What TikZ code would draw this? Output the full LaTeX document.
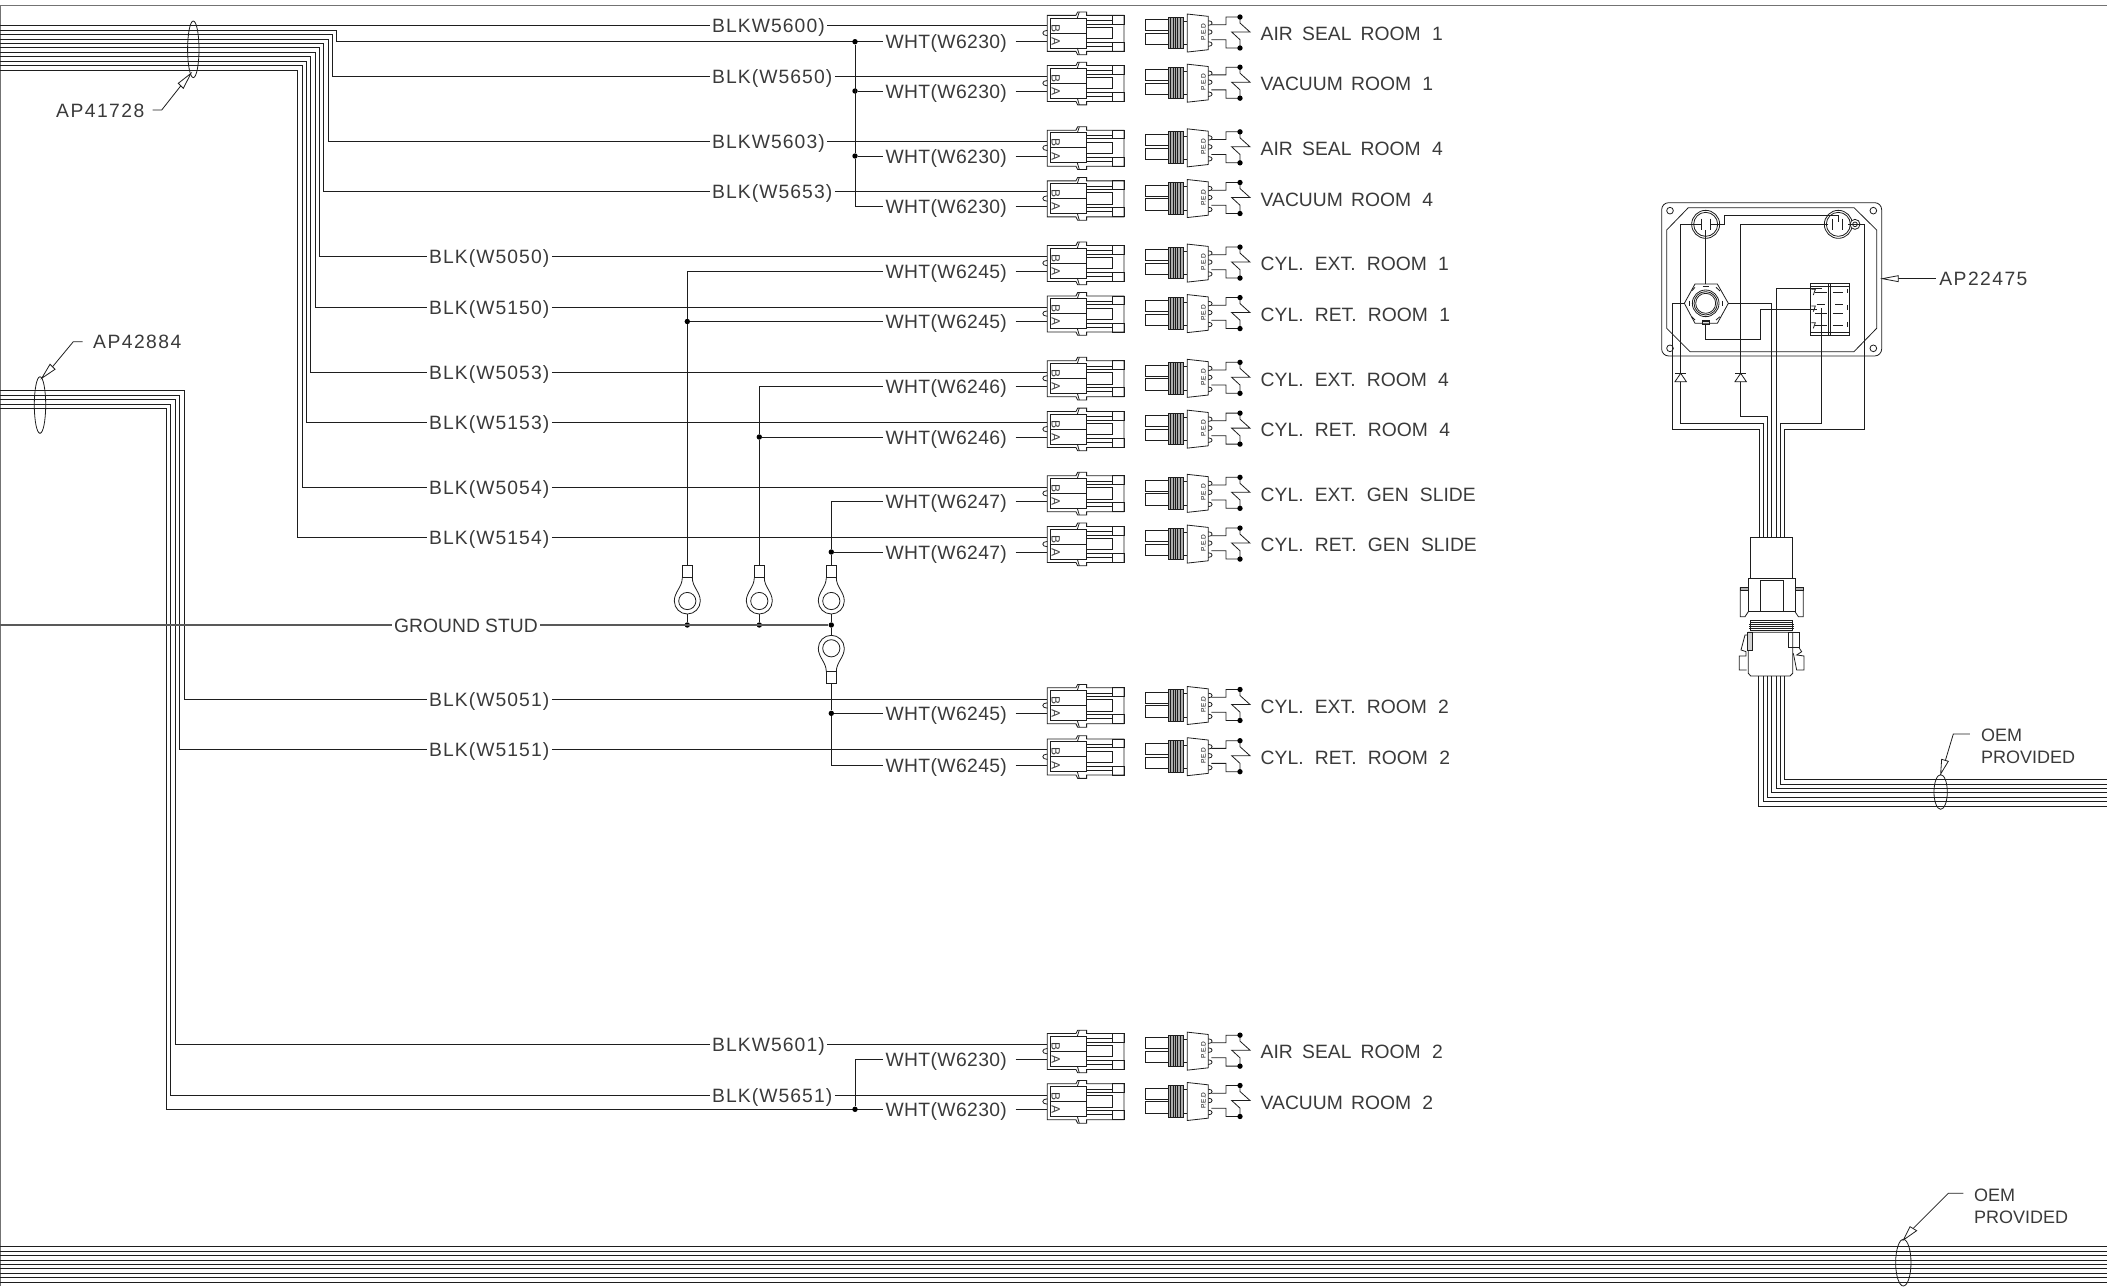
\documentclass[tikz,border=0pt]{standalone}
\usepackage{fontspec}
\usetikzlibrary{calc}
\newfontfamily\lblfont[WordSpace=2.1]{Liberation Sans}
\newfontfamily\lblwht[WordSpace=2.1,LetterSpace=2]{Liberation Sans}
\newfontfamily\lblblk[WordSpace=2.1,LetterSpace=5.5]{Liberation Sans}
\newfontfamily\lbltag[WordSpace=2.1,LetterSpace=7.5]{Liberation Sans}
\definecolor{ink}{HTML}{1E1E1E}
\definecolor{txt}{HTML}{3A3A3A}
\tikzset{
  wire/.style={draw=ink,line width=1pt,line join=miter},
  thin line/.style={draw=ink,line width=0.8pt},
  lab/.style={font=\lblfont\fontsize{19.3}{22}\selectfont,text=txt,inner xsep=2.5pt,inner ysep=0pt,text height=14pt,text depth=0pt},
  labwht/.style={lab,font=\lblwht\fontsize{19.3}{22}\selectfont},
  labblk/.style={lab,font=\lblblk\fontsize{19.3}{22}\selectfont},
  labtag/.style={lab,font=\lbltag\fontsize{19.3}{22}\selectfont},
  laboem/.style={lab,font=\lblfont\fontsize{18}{22}\selectfont},
  mini/.style={font=\lblfont\fontsize{12}{12}\selectfont,text=txt,inner sep=0pt},
  micro/.style={font=\lblfont\fontsize{6.5}{7}\selectfont,text=black,inner sep=0pt},
  dotn/.style={circle,fill=black,inner sep=0pt,minimum size=5.4pt},
  mconn/.pic={
    \coordinate (-w) at (0,0);
    \begin{scope}[x=.3333pt,y=-.3333pt,shift={(-22,-77)},thin line]
      \draw (22,22)--(108,22)--(113,12)--(140,12)--(140,22)--(252,22)--(252,130)--(140,130)--(140,140)--(113,140)--(108,130)--(22,130)--cycle;
      \draw (30,30) rectangle (140,120);
      \draw (30,75)--(140,75);
      \draw (118,12)--(112,30) (118,140)--(112,120);
      \draw (218,22) rectangle (252,48);
      \draw (218,103) rectangle (252,130);
      \draw (140,38)--(218,38) (140,48)--(218,48) (140,115)--(218,115) (140,103)--(218,103);
      \draw (140,58) rectangle (218,92);
      \draw (22,67) .. controls (4,67) and (4,83) .. (22,83);
      \node[mini,rotate=-90] (-B) at (47,60) {B};
      \node[mini,rotate=-90] (-A) at (47,100) {A};
    \end{scope}
  },
  sensor/.pic={
    \begin{scope}[x=.3333pt,y=-.3333pt,shift={(-15,-77)},thin line]
      \draw (15,35) rectangle (85,68);
      \draw (15,76) rectangle (85,110);
      \draw[fill=gray!65] (85,27) rectangle (130,122);
      \draw (85,27) rectangle (130,122);
      \draw[line width=.7pt] (92,27)--(92,122) (99,27)--(99,122) (106,27)--(106,122) (113,27)--(113,122) (120,27)--(120,122);
      \draw (130,40)--(142,40) (130,110)--(142,110);
      \draw (142,18)--(205,25)--(205,125)--(142,132)--cycle;
      \draw (205,38) .. controls (220,38) and (220,52) .. (205,52);
      \draw (205,65) .. controls (220,65) and (220,79) .. (205,79);
      \draw (205,101) .. controls (220,101) and (220,115) .. (205,115);
      \draw (214,50)--(258,50)--(258,27)--(300,27)--(300,45)--(330,72)--(275,72)--(300,95)--(300,120)--(258,120)--(258,95)--(214,95);
      \fill[black] (300,27) circle[radius=8] (300,120) circle[radius=8];
      \node[micro,rotate=90] (-ped) at (190,72) {P.E.D};
    \end{scope}
  },
  lug/.pic={
    \draw[thin line,fill=white] (-5,-23.3) .. controls (-5,-14) and (-13,-9) .. (-13,0)
        arc[start angle=180,end angle=0,radius=13]
        .. controls (13,-9) and (5,-14) .. (5,-23.3);
    \draw[thin line] (-5,-35.3) rectangle (5,-23.3);
    \draw[thin line] (0,0) circle[radius=8.6];
    \coordinate (-top) at (0,-35.3);
    \coordinate (-bot) at (0,13);
  }
}
\newcommand{\Row}[7]{% n, top, low, blk, blkx, wht, right label
  \pgfmathsetmacro{\rmid}{(#2+#3)/2}
  \node[labblk,anchor=west] (b#1) at (#5,#2) {#4};
  \node[labwht,anchor=west] (w#1) at (882.8,#3) {WHT(#6)};
  \pic (c#1) at (1047.3,\rmid) {mconn};
  \pic (s#1) at (1145,\rmid) {sensor};
  \node[lab,anchor=west] (t#1) at (1258,\rmid) {#7};
  \draw[wire] (b#1.east) -- (c#1-w |- b#1.east);
  \draw[wire] ($(w#1.east)+(6,0)$) -- (c#1-w |- w#1.east);
}
\newcommand{\Feed}[4]{% name, y start, column x, target
  \coordinate (#1) at (0,#2);
  \draw[wire] (#1) -- (#1 -| #3,0) |- (#4);
}
\begin{document}
\begin{tikzpicture}[x=1pt,y=-1pt]
\useasboundingbox (0,0) rectangle (2107,1286);
\clip (0,0) rectangle (2107,1286);
% sheet frame
\coordinate (fa) at (0.6,1286);
\coordinate (fb) at (0.6,5.3);
\coordinate (fc) at (2107,5.3);
\draw[wire,draw=gray!90!black] (fa) -- (fb) -- (fc);

% rows
\Row{1}{25.7}{41.7}{BLKW5600)}{709.5}{W6230}{AIR\kern-2pt{} SEAL\kern-2pt{} ROOM 1}
\Row{2}{76.7}{91}{BLK(W5650)}{709.5}{W6230}{VACUUM\kern-3pt{} ROOM 1}
\Row{3}{141}{156}{BLKW5603)}{709.5}{W6230}{AIR\kern-2pt{} SEAL\kern-2pt{} ROOM 4}
\Row{4}{191.7}{206.7}{BLK(W5653)}{709.5}{W6230}{VACUUM\kern-3pt{} ROOM 4}
\Row{5}{256.5}{271}{BLK(W5050)}{426.5}{W6245}{CYL. EXT. ROOM 1}
\Row{6}{307}{321.5}{BLK(W5150)}{426.5}{W6245}{CYL. RET. ROOM 1}
\Row{7}{372}{386}{BLK(W5053)}{426.5}{W6246}{CYL. EXT. ROOM 4}
\Row{8}{422.6}{437}{BLK(W5153)}{426.5}{W6246}{CYL. RET. ROOM 4}
\Row{9}{487}{501}{BLK(W5054)}{426.5}{W6247}{CYL. EXT. GEN SLIDE}
\Row{10}{537.5}{552}{BLK(W5154)}{426.5}{W6247}{CYL. RET. GEN SLIDE}
\Row{11}{699}{713.3}{BLK(W5051)}{426.5}{W6245}{CYL. EXT. ROOM 2}
\Row{12}{749.7}{765}{BLK(W5151)}{426.5}{W6245}{CYL. RET. ROOM 2}
\Row{13}{1044.3}{1059.3}{BLKW5601)}{709.5}{W6230}{AIR\kern-2pt{} SEAL\kern-2pt{} ROOM 2}
\Row{14}{1095}{1109.3}{BLK(W5651)}{709.5}{W6230}{VACUUM\kern-3pt{} ROOM 2}

% AP41728 bundle
\coordinate (fa1) at (0,25.7);
\draw[wire] (fa1) -- (b1.west);
\Feed{fa2}{30.3}{336.7}{w1.west}
\Feed{fa3}{34.7}{332.3}{b2.west}
\Feed{fa4}{39}{328}{b3.west}
\Feed{fa5}{43.3}{323.7}{b4.west}
\Feed{fa6}{47.7}{319.3}{b5.west}
\Feed{fa7}{52}{315}{b6.west}
\Feed{fa8}{56.7}{310.7}{b7.west}
\Feed{fa9}{61}{306.3}{b8.west}
\Feed{fa10}{65.7}{302}{b9.west}
\Feed{fa11}{70}{297.5}{b10.west}
% AP42884 bundle
\Feed{fb1}{390.7}{184.3}{b11.west}
\Feed{fb2}{395}{179.7}{b12.west}
\Feed{fb3}{399.3}{175.3}{b13.west}
\Feed{fb4}{404}{170.9}{b14.west}
\Feed{fb5}{408.3}{166.5}{w14.west}

% common whites, room 1/4
\node[dotn] (d1) at (w1.west -| 855,0) {};
\node[dotn] (d2) at (w2.west -| 855,0) {};
\node[dotn] (d3) at (w3.west -| 855,0) {};
\draw[wire] (d1) -- (d3) |- (w4.west);
\draw[wire] (d2) -- (w2.west);
\draw[wire] (d3) -- (w3.west);
% room 2 pair
\node[dotn] (d14) at (w14.west -| 855,0) {};
\draw[wire] (d14) |- (w13.west);

% ground stud
\node[lab,anchor=west] (gnd) at (391.5,625) {GROUND\kern-6pt{} STUD};
\coordinate (gs) at (0,625);
\draw[wire,line width=1.4pt,draw=gray!70!black] (gs) -- (gnd.west);
\pic (l1) at (687.3,601) {lug};
\pic (l2) at (759.3,601) {lug};
\pic (l3) at (831.3,601) {lug};
\pic[yscale=-1] (l4) at (831.3,648.3) {lug};
\node[dotn] (g1) at (l1-bot |- gs) {};
\node[dotn] (g2) at (l2-bot |- gs) {};
\node[dotn] (g3) at (l3-bot |- gs) {};
\draw[wire,line width=1.4pt,draw=gray!70!black] (gnd.east) -- (g3);
\draw[wire] (l1-bot) -- (g1) (l2-bot) -- (g2) (l3-bot) -- (g3) -- ($(l4-bot)$);
\node[dotn] (d6) at (w6.west -| l1-top) {};
\node[dotn] (d8) at (w8.west -| l2-top) {};
\node[dotn] (d10) at (w10.west -| l3-top) {};
\node[dotn] (d11) at (w11.west -| l4-top) {};
\draw[wire] (l1-top) -- (d6) |- (w5.west);
\draw[wire] (d6) -- (w6.west);
\draw[wire] (l2-top) -- (d8) |- (w7.west);
\draw[wire] (d8) -- (w8.west);
\draw[wire] (l3-top) -- (d10) |- (w9.west);
\draw[wire] (d10) -- (w10.west);
\draw[wire] (l4-top) -- (d11) |- (w12.west);
\draw[wire] (d11) -- (w11.west);

% AP41728 tag
\draw[thin line] (193.3,49.3) ellipse[x radius=5.7,y radius=28.3];
\coordinate (e1) at (152.7,110);
\node[labtag,anchor=west] (tagA) at (53.5,110) {AP41728};
\draw[thin line] (e1) -- (161.7,110) -- (180.8,85.8);
\draw[thin line,fill=white] (191,73.3) -- (178.3,83.3) -- (183.3,88.3) -- cycle;
% AP42884 tag
\draw[thin line] (40,405) ellipse[x radius=5.7,y radius=28.3];
\node[labtag,anchor=west] (tagB) at (90.5,341.7) {AP42884};
\coordinate (e2) at (82.7,341.7);
\draw[thin line] (e2) -- (73.3,341.7) -- (52.5,366.8);
\draw[thin line,fill=white] (41.7,378.3) -- (50,364.3) -- (55,369.3) -- cycle;

% box AP22475 (coordinates on a 3x grid)
\begin{scope}[shift={(1640,180)},x=.3333pt,y=-.3333pt]
  \draw[thin line,rounded corners=7pt] (65,68) rectangle (725,528);
  \draw[thin line] (145,83)--(642,83)--(710,150)--(710,445)--(642,515)--(150,515)--(80,445)--(80,150)--cycle;
  \foreach \hx/\hy in {90/92,700/92,90/505,700/505}
    \draw[thin line] (\hx,\hy) circle[radius=10];
  % plugs
  \foreach \cx in {197,595}{
    \draw[thin line] (\cx,133) circle[radius=42];
    \draw[thin line] (\cx,133) circle[radius=36];
  }
  \draw[thin line,fill=white] (645,133) circle[radius=15];
  \draw[thin line] (645,133) circle[radius=7];
  \draw[wire] (183,116)--(183,150) (210,116)--(210,150);
  \draw[wire] (578,116)--(578,150) (607,116)--(607,150);
  % switch
  \draw[thin line] (510,310) rectangle (628,465);
  \draw[thin line] (565,310)--(565,465) (571,310)--(571,465);
  \draw[thin line] (510,318)--(628,318) (510,457)--(628,457);
  \draw[wire] (525,338)--(560,338) (578,338)--(610,338)
              (530,375)--(555,375) (585,375)--(608,375)
              (525,400)--(560,400) (578,400)--(610,400)
              (525,437)--(560,437) (578,437)--(610,437);
  \draw[thin line] (514,328)--(526,328)--(520,345) (514,378)--(526,378)--(520,395) (514,428)--(526,428)--(520,445);
  \draw[thin line] (622,326)--(622,340) (622,375)--(622,390) (622,426)--(622,440);
  % selector
  \draw[thin line] (133,370)--(165,312)--(232,312)--(265,370)--(232,430)--(165,430)--cycle;
  \draw[thin line] (197,370) circle[radius=40];
  \draw[thin line] (197,370) circle[radius=35];
  \draw[thin line] (197,370) circle[radius=30];
  \draw[wire] (188,320)--(207,320) (188,424)--(207,424) (147,362)--(147,378) (246,362)--(246,378);
  \draw[thin line] (155,333)--(165,322) (228,322)--(240,333) (155,410)--(165,420) (228,420)--(240,410);
  \draw[thin line] (187,420) rectangle (208,433);
  % wires
  \draw[wire] (197,150)--(197,312);
  \draw[wire] (183,133)--(122,133)--(122,730)--(370,730)--(370,1072);
  \draw[wire] (210,133)--(253,133)--(253,106)--(595,106)--(595,125);
  \draw[wire] (565,133)--(302,133)--(302,710)--(383,710)--(383,1072);
  \draw[wire] (625,133)--(673,133)--(673,750)--(432,750)--(432,1072);
  \draw[wire] (133,370)--(97,370)--(97,750)--(357,750)--(357,1072);
  \draw[wire] (265,370)--(395,370)--(395,1072);
  \draw[wire] (197,433)--(197,480)--(362,480)--(362,388)--(530,388);
  \draw[wire] (545,325)--(408,325)--(408,1072);
  \draw[wire] (543,385)--(543,730)--(420,730)--(420,1072);
  % diodes
  \foreach \dx in {122,302}{
    \draw[thin line,fill=white] (\dx,580)--(\dx-17,605)--(\dx+17,605)--cycle;
    \draw[thin line] (\dx-17,580)--(\dx+17,580);
  }
  % tag
  \node[labtag,anchor=west] (tagC) at (890,296) {AP22475};
  \coordinate (e3) at (888,296);
  \draw[thin line] (e3)--(775,296);
  \draw[thin line,fill=white] (727,296)--(775,287)--(775,305)--cycle;
\end{scope}

% OEM connector and cable (coordinates on a 3x grid)
\begin{scope}[shift={(1680,420)},x=.3333pt,y=-.3333pt]
  \draw[thin line] (211,352) rectangle (338,475);
  \draw[thin line] (205,475) rectangle (345,575);
  \draw[thin line] (241,482) rectangle (309,575);
  \draw[thin line] (205,503)--(181,503)--(181,590)--(195,590)--(205,575);
  \draw[thin line] (345,503)--(370,503)--(370,590)--(355,590)--(345,575);
  \draw[thin line,fill=gray!60] (181,503) rectangle (205,512);
  \draw[thin line,fill=gray!60] (345,503) rectangle (370,512);
  \draw[thin line] (210,602) rectangle (338,630);
  \draw[thin line] (210,608)--(338,608);
  \draw[wire,line width=1.3pt] (207,614)--(342,614) (207,620)--(342,620) (207,626)--(342,626);
  \draw[thin line] (212,637)--(338,637)--(338,760)--(330,768)--(212,768)--(205,760)--(205,637)--cycle;
  \draw[thin line,fill=gray!35] (203,637) rectangle (218,692);
  \draw[thin line] (325,637) rectangle (357,683);
  \draw[thin line] (203,645)--(195,645)--(183,690)--(198,695)--(198,708)--(178,708)--(178,750)--(200,750);
  \draw[thin line] (357,683)--(365,695)--(350,705)--(372,708)--(372,750)--(350,750)--(340,700);
  \draw[wire] (236,768)--(236,1159)--(1281,1159);
  \draw[wire] (249,768)--(249,1146)--(1281,1146);
  \draw[wire] (262,768)--(262,1133)--(1281,1133);
  \draw[wire] (275,768)--(275,1119)--(1281,1119);
  \draw[wire] (288,768)--(288,1106)--(1281,1106);
  \draw[wire] (301,768)--(301,1093)--(1281,1093);
  \draw[wire] (314,768)--(314,1079)--(1281,1079);
  \draw[thin line] (782,1116) ellipse[x radius=20,y radius=52];
  \coordinate (e4) at (870,942);
  \draw[thin line] (e4)--(820,942)--(796,1022);
  \draw[thin line,fill=white] (782,1062)--(785,1018)--(805,1024)--cycle;
  \node[laboem,anchor=west] (oemA) at (895,945) {OEM};
  \node[laboem,anchor=west] (oemB) at (895,1010) {PROVIDED};
\end{scope}

% bottom OEM bundle (coordinates on a 3x grid)
\begin{scope}[shift={(1700,1160)},x=.3333pt,y=-.3333pt]
  \foreach \ly in {260,273,286,300,313,326,339,352,366}
    \draw[wire] (-5100,\ly)--(1221,\ly);
  \draw[thin line] (610,308) ellipse[x radius=23,y radius=70];
  \coordinate (e5) at (790,100);
  \draw[thin line] (e5)--(745,100)--(640,205);
  \draw[thin line,fill=white] (610,240)--(630,200)--(650,212)--cycle;
  \node[laboem,anchor=west] (oemC) at (814,103) {OEM};
  \node[laboem,anchor=west] (oemD) at (814,168) {PROVIDED};
\end{scope}
\end{tikzpicture}
\end{document}
